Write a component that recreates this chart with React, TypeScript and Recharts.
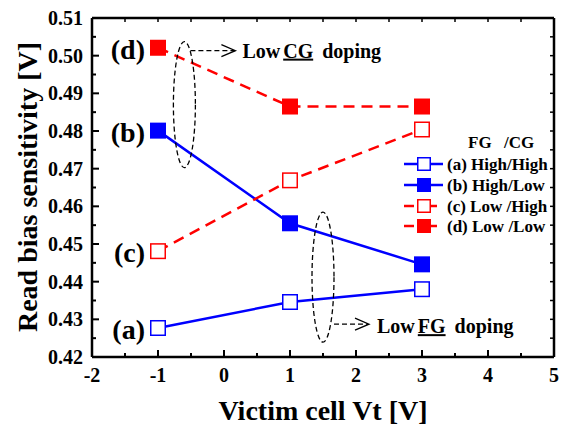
import React from 'react';
import { LineChart, Line, XAxis, YAxis, ReferenceDot, Legend } from 'recharts';

// ---- data ----
const victimVt = [-1, 1, 3];
const highHigh = [0.4277, 0.4346, 0.438];
const highLow = [0.4801, 0.4555, 0.4446];
const lowHigh = [0.4481, 0.4669, 0.4804];
const lowLow = [0.5021, 0.4865, 0.4865];

const seriesNames = ['(a) High/High', '(b) High/Low', '(c) Low /High', '(d) Low /Low'];
const pointTags = ['(a)', '(b)', '(c)', '(d)'];
const legendTitleA = 'FG';
const legendTitleB = '/CG';

const xTicks = [-2, -1.5, -1, -0.5, 0, 0.5, 1, 1.5, 2, 2.5, 3, 3.5, 4, 4.5, 5];
const yTicks = [0.42, 0.425, 0.43, 0.435, 0.44, 0.445, 0.45, 0.455, 0.46, 0.465, 0.47, 0.475, 0.48, 0.485, 0.49, 0.495, 0.5, 0.505, 0.51];

const xTitle = 'Victim cell Vt [V]';
const yTitle = 'Read bias sensitivity [V]';

// annotation anchors (data coords)
const cgNote = { x: -0.6, y: 0.487, pre: 'Low', key: 'CG', post: 'doping' };
const fgNote = { x: 1.5, y: 0.4412, pre: 'Low', key: 'FG', post: 'doping' };

const data = victimVt.map((x, i) => ({
  x,
  a: highHigh[i],
  b: highLow[i],
  c: lowHigh[i],
  d: lowLow[i],
}));

const FONT = '"Liberation Serif", "Times New Roman", serif';
const BLUE = '#0000FF';
const RED = '#FF0000';

const isMajorX = (v: number) => Math.abs(v - Math.round(v)) < 1e-6;
const isMajorY = (v: number) => Math.abs(v * 100 - Math.round(v * 100)) < 1e-6;

const BottomTick = (p: any) => {
  const v = p.payload.value;
  const major = isMajorX(v);
  return (
    <g>
      <line x1={p.x} x2={p.x} y1={p.y} y2={p.y - (major ? 7 : 4)} stroke="#000" strokeWidth={2} />
      {major && (
        <text x={p.x} y={p.y + 25} textAnchor="middle" fontSize={20} fontWeight="bold" fontFamily={FONT} fill="#000">
          {String(v)}
        </text>
      )}
    </g>
  );
};

const TopTick = (p: any) => (
  <line x1={p.x} x2={p.x} y1={p.y} y2={p.y + 4} stroke="#000" strokeWidth={1.5} />
);

const LeftTick = (p: any) => {
  const v = p.payload.value;
  const major = isMajorY(v);
  return (
    <g>
      <line x1={p.x} x2={p.x + (major ? 7 : 4)} y1={p.y} y2={p.y} stroke="#000" strokeWidth={2} />
      {major && (
        <text x={p.x - 9} y={p.y + 7} textAnchor="end" fontSize={20} fontWeight="bold" fontFamily={FONT} fill="#000">
          {v.toFixed(2)}
        </text>
      )}
    </g>
  );
};

const RightTick = (p: any) => (
  <line x1={p.x} x2={p.x - 4} y1={p.y} y2={p.y} stroke="#000" strokeWidth={1.5} />
);

const makeDot = (color: string, filled: boolean, tag: string) => (p: any) => {
  const { cx, cy, index } = p;
  const s = 16;
  return (
    <g key={`dot-${tag}-${index}`}>
      <rect
        x={cx - s / 2 + (filled ? 0 : 0.75)}
        y={cy - s / 2 + (filled ? 0 : 0.75)}
        width={filled ? s : s - 1.5}
        height={filled ? s : s - 1.5}
        fill={filled ? color : '#fff'}
        stroke={color}
        strokeWidth={filled ? 0 : 1.5}
      />
      {index === 0 && (
        <text x={cx - 13} y={cy + 11} textAnchor="end" fontSize={28} fontWeight="bold" fontFamily={FONT} fill="#000">
          {tag}
        </text>
      )}
    </g>
  );
};

const makeNote = (note: any, up: boolean) => (p: any) => {
  const { cx, cy } = p;
  const ay = up ? cy - 54 : cy + 47;
  const ax0 = up ? cx + 6 : cx + 11;
  const ax1 = up ? cx + 50 : cx + 45;
  const tx = up ? cx + 58 : cx + 54;
  const ty = up ? cy - 47 : cy + 56;
  const ry = up ? 63 : 65;
  return (
    <g>
      <ellipse cx={cx} cy={cy} rx={11} ry={ry} fill="none" stroke="#000" strokeWidth={1.3} strokeDasharray="5 3" />
      <line x1={ax0} x2={ax1} y1={ay} y2={ay} stroke="#000" strokeWidth={1.3} strokeDasharray="5 3" />
      <polyline
        points={`${ax1 - 13},${ay - 6} ${ax1 + 1},${ay} ${ax1 - 13},${ay + 6}`}
        fill="none"
        stroke="#000"
        strokeWidth={1.3}
      />
      <text x={tx} y={ty} fontSize={20} fontWeight="bold" fontFamily={FONT} fill="#000">
        {note.pre}
        <tspan dx={3} style={{ textDecoration: 'underline' }}>{note.key}</tspan>
        <tspan dx={4}>{'\u00a0' + note.post}</tspan>
      </text>
    </g>
  );
};

const legendStyles = [
  { color: BLUE, filled: false, dashed: false },
  { color: BLUE, filled: true, dashed: false },
  { color: RED, filled: false, dashed: true },
  { color: RED, filled: true, dashed: true },
];

const LegendBox = () => {
  const rows = [34, 55, 76, 96];
  return (
    <svg width={170} height={110} style={{ display: 'block', overflow: 'visible' }}>
      <text x={73} y={18} fontSize={17} fontWeight="bold" fontFamily={FONT} fill="#000">{legendTitleA}</text>
      <text x={109} y={18} fontSize={17} fontWeight="bold" fontFamily={FONT} fill="#000">{legendTitleB}</text>
      {seriesNames.map((name, i) => {
        const st = legendStyles[i];
        const y = rows[i];
        return (
          <g key={name}>
            {st.dashed ? (
              <g>
                <line x1={9} x2={19} y1={y} y2={y} stroke={st.color} strokeWidth={2.5} />
                <line x1={35} x2={42} y1={y} y2={y} stroke={st.color} strokeWidth={2.5} />
              </g>
            ) : (
              <line x1={9} x2={48} y1={y} y2={y} stroke={st.color} strokeWidth={2.5} />
            )}
            <rect
              x={st.filled ? 22 : 22.75}
              y={st.filled ? y - 7 : y - 6.25}
              width={st.filled ? 14 : 12.5}
              height={st.filled ? 14 : 12.5}
              fill={st.filled ? st.color : '#fff'}
              stroke={st.color}
              strokeWidth={st.filled ? 0 : 1.5}
            />
            <text x={52} y={y + 6} fontSize={17} fontWeight="bold" fontFamily={FONT} fill="#000">{name}</text>
          </g>
        );
      })}
    </svg>
  );
};

export default function App() {
  return (
    <div style={{ position: 'absolute', left: 0, top: 0, width: 565, height: 428, background: '#fff' }}>
      <LineChart width={565} height={428} data={data} margin={{ top: 0, right: 0, bottom: 0, left: 0 }} style={{ fontFamily: FONT }}>
        <XAxis
          dataKey="x"
          type="number"
          domain={[-2, 5]}
          ticks={xTicks}
          interval={0}
          allowDataOverflow
          height={71}
          tickSize={0}
          tickMargin={0}
          tickLine={false}
          tick={BottomTick}
          axisLine={{ stroke: '#000', strokeWidth: 2.5 }}
        />
        <XAxis
          xAxisId="top"
          orientation="top"
          dataKey="x"
          type="number"
          domain={[-2, 5]}
          ticks={xTicks}
          interval={0}
          allowDataOverflow
          height={18}
          tickSize={0}
          tickMargin={0}
          tickLine={false}
          tick={TopTick}
          axisLine={{ stroke: '#000', strokeWidth: 2.5 }}
        />
        <YAxis
          type="number"
          domain={[0.42, 0.51]}
          ticks={yTicks}
          interval={0}
          allowDataOverflow
          width={92}
          tickSize={0}
          tickMargin={0}
          tickLine={false}
          tick={LeftTick}
          axisLine={{ stroke: '#000', strokeWidth: 2.5 }}
        />
        <YAxis
          yAxisId="right"
          orientation="right"
          type="number"
          domain={[0.42, 0.51]}
          ticks={yTicks}
          interval={0}
          allowDataOverflow
          width={11}
          tickSize={0}
          tickMargin={0}
          tickLine={false}
          tick={RightTick}
          axisLine={{ stroke: '#000', strokeWidth: 2.5 }}
        />
        <Legend
          layout="horizontal"
          verticalAlign="middle"
          content={() => <LegendBox />}
          wrapperStyle={{ position: 'absolute', left: 395, top: 130, width: 170, height: 110 }}
        />
        <Line dataKey="a" name={seriesNames[0]} stroke={BLUE} strokeWidth={2.5} isAnimationActive={false} dot={makeDot(BLUE, false, pointTags[0])} activeDot={false} />
        <Line dataKey="b" name={seriesNames[1]} stroke={BLUE} strokeWidth={2.5} isAnimationActive={false} dot={makeDot(BLUE, true, pointTags[1])} activeDot={false} />
        <Line dataKey="c" name={seriesNames[2]} stroke={RED} strokeWidth={2.5} strokeDasharray="11 7" isAnimationActive={false} dot={makeDot(RED, false, pointTags[2])} activeDot={false} />
        <Line dataKey="d" name={seriesNames[3]} stroke={RED} strokeWidth={2.5} strokeDasharray="11 7" isAnimationActive={false} dot={makeDot(RED, true, pointTags[3])} activeDot={false} />
        <ReferenceDot x={cgNote.x} y={cgNote.y} r={1} shape={makeNote(cgNote, true)} />
        <ReferenceDot x={fgNote.x} y={fgNote.y} r={1} shape={makeNote(fgNote, false)} />
      </LineChart>
      <svg width={565} height={428} style={{ position: 'absolute', left: 0, top: 0, pointerEvents: 'none' }}>
        <text x={323} y={420} textAnchor="middle" fontSize={28} fontWeight="bold" fontFamily={FONT} fill="#000">{xTitle}</text>
        <text transform="translate(37,187) rotate(-90)" textAnchor="middle" fontSize={28} fontWeight="bold" fontFamily={FONT} fill="#000">{yTitle}</text>
      </svg>
    </div>
  );
}
